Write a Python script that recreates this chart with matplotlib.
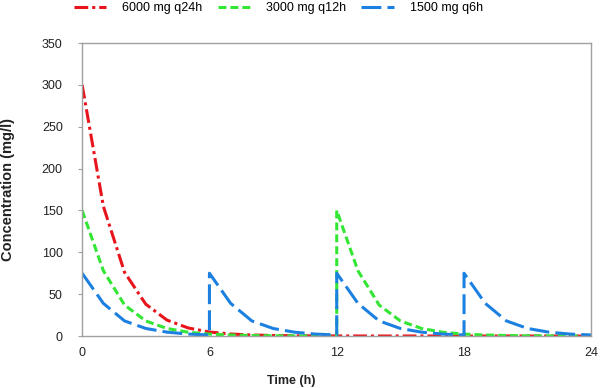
import numpy as np
import matplotlib.pyplot as plt

# Dados (concentração em mg/l, tempo em h)
time_red = [0, 1, 2, 3, 4, 5, 6, 7, 8, 9, 10, 11, 12, 13, 14, 15, 16, 17, 18, 19, 20, 21, 22, 23, 24]
conc_red = [300, 155, 76, 38, 19, 9.6, 4.8, 2.4, 1.2, 0.6, 0.3, 0.15, 0.08, 0.04, 0.02, 0.01,
            0, 0, 0, 0, 0, 0, 0, 0, 0]

time_green = [0, 1, 2, 3, 4, 5, 6, 7, 8, 9, 10, 11, 12,
              12, 13, 14, 15, 16, 17, 18, 19, 20, 21, 22, 23, 24]
conc_green = [150, 78, 37, 18, 9, 4.5, 2.3, 1.2, 0.6, 0.3, 0.15, 0.07, 0.04,
              150, 78, 37, 18, 9, 4.5, 2.3, 1.2, 0.6, 0.3, 0.15, 0.07, 0.04]

time_blue = [0, 1, 2, 3, 4, 5, 6,
             6, 7, 8, 9, 10, 11, 12,
             12, 13, 14, 15, 16, 17, 18,
             18, 19, 20, 21, 22, 23, 24]
conc_blue = [75, 39, 18, 9, 4.6, 2.3, 1.2,
             75, 39, 18, 9, 4.6, 2.3, 1.2,
             75, 39, 18, 9, 4.6, 2.3, 1.2,
             75, 39, 18, 9, 4.6, 2.3, 1.2]

labels = ['6000 mg q24h', '3000 mg q12h', '1500 mg q6h']
x_ticks = [0, 6, 12, 18, 24]
y_ticks = [0, 50, 100, 150, 200, 250, 300, 350]


def main():
    plt.rcParams['font.family'] = ['Liberation Sans', 'DejaVu Sans']

    fig = plt.figure(figsize=(6.04, 3.88), dpi=100)
    ax = fig.add_axes([0.136, 0.134, 0.843, 0.755])

    lw = 2.2
    ax.plot(time_red, conc_red, color='#E8141B', lw=lw, dashes=(4.5, 1.3, 1.0, 1.3),
            dash_capstyle='butt', label=labels[0])
    ax.plot(time_green, conc_green, color='#33E633', lw=lw, dashes=(2.6, 1.3),
            dash_capstyle='butt', label=labels[1])
    ax.plot(time_blue, conc_blue, color='#1C80E0', lw=lw, dashes=(6.5, 2.0),
            dash_capstyle='butt', label=labels[2])

    ax.set_xlim(0, 24)
    ax.set_ylim(0, 350)
    ax.set_xticks(x_ticks)
    ax.set_yticks(y_ticks)
    ax.tick_params(axis='both', labelsize=9, colors='#A0A0A0', labelcolor='#222222',
                   length=3, width=0.8)
    ax.tick_params(axis='x', length=0, pad=8)
    ax.tick_params(axis='y', pad=11)
    for s in ax.spines.values():
        s.set_color('#A0A0A0')
        s.set_linewidth(1.0)

    ax.set_xlabel('Time (h)', fontsize=9, fontweight='bold', color='#222222', va='center')
    ax.xaxis.set_label_coords(0.41, -0.154)
    ax.set_ylabel('Concentration (mg/l)', fontsize=10.5, fontweight='bold', color='#222222')
    ax.yaxis.set_label_coords(-0.132, 0.5)

    fig.legend(loc='center', bbox_to_anchor=(0.461, 1 - 8 / 388), ncol=3, frameon=False,
               fontsize=9, handlelength=2.6, columnspacing=1.2, handletextpad=1.3,
               borderaxespad=0, borderpad=0)

    fig.savefig('out.png', dpi=100)


if __name__ == '__main__':
    main()
